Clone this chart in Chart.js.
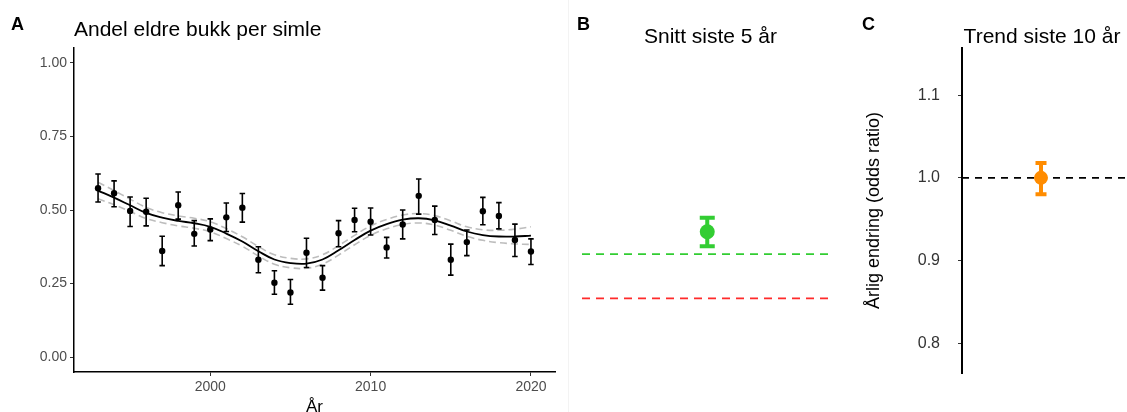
<!DOCTYPE html>
<html>
<head>
<meta charset="utf-8">
<script src="https://cdn.jsdelivr.net/npm/chart.js@4.4.1/dist/chart.umd.min.js"></script>
<style>
    html, body { margin: 0; padding: 0; background: #fff; }
    body { width: 1127px; height: 412px; overflow: hidden; position: relative; font-family: 'Liberation Sans', Arial, sans-serif; }
    .panel { position: absolute; top: 0; }
    .tag { position: absolute; font-size: 18px; line-height: 18px; font-weight: bold; color: #000; }
    .ttl { position: absolute; font-size: 21px; line-height: 21px; color: #000; white-space: nowrap; }
    .sep { position: absolute; left: 568px; top: 0; width: 1px; height: 412px; background: #f3f3f3; }
</style>
</head>
<body>
<div class="panel" style="left:0;width:560px;height:430px;"><canvas id="chartA" width="560" height="430"></canvas></div>
<div class="sep"></div>
<div class="panel" style="left:560px;width:280px;height:412px;"><canvas id="chartB" width="280" height="412"></canvas></div>
<div class="panel" style="left:840px;width:287px;height:412px;"><canvas id="chartC" width="287" height="412"></canvas></div>

<div class="tag" style="left:11px;top:15px;">A</div>
<div class="ttl" style="left:74px;top:18px;">Andel eldre bukk per simle</div>
<div class="tag" style="left:577px;top:15px;">B</div>
<div class="ttl" style="left:582px;width:257px;text-align:center;top:25px;">Snitt siste 5 år</div>
<div class="tag" style="left:862px;top:15px;">C</div>
<div class="ttl" style="left:962px;width:160px;text-align:center;top:25px;">Trend siste 10 år</div>

<script>
/**
 * Panel A: andel eldre bukk per simle, per år
 */
const years = [1993, 1994, 1995, 1996, 1997, 1998, 1999, 2000, 2001, 2002, 2003, 2004, 2005, 2006,
    2007, 2008, 2009, 2010, 2011, 2012, 2013, 2014, 2015, 2016, 2017, 2018, 2019, 2020];
const obsMean = [0.574, 0.557, 0.497, 0.494, 0.361, 0.516, 0.419, 0.434, 0.475, 0.508, 0.331, 0.253, 0.220, 0.355,
    0.270, 0.421, 0.466, 0.460, 0.373, 0.451, 0.548, 0.466, 0.331, 0.391, 0.496, 0.480, 0.398, 0.359];
const obsLow = [0.527, 0.511, 0.444, 0.446, 0.311, 0.469, 0.378, 0.396, 0.427, 0.459, 0.287, 0.214, 0.180, 0.305,
    0.228, 0.375, 0.426, 0.415, 0.337, 0.402, 0.486, 0.417, 0.279, 0.345, 0.450, 0.436, 0.342, 0.315];
const obsHigh = [0.622, 0.599, 0.544, 0.540, 0.411, 0.561, 0.464, 0.470, 0.524, 0.556, 0.375, 0.294, 0.264, 0.404,
    0.311, 0.464, 0.506, 0.507, 0.407, 0.500, 0.605, 0.513, 0.384, 0.432, 0.543, 0.525, 0.452, 0.402];
const smoothFit = [0.566, 0.542, 0.516, 0.490, 0.474, 0.463, 0.455, 0.443, 0.420, 0.393, 0.360, 0.332, 0.320, 0.318,
    0.332, 0.363, 0.398, 0.430, 0.452, 0.467, 0.472, 0.465, 0.447, 0.427, 0.415, 0.410, 0.410, 0.413];
const smoothHigh = [0.594, 0.566, 0.537, 0.509, 0.491, 0.480, 0.472, 0.460, 0.437, 0.409, 0.376, 0.348, 0.336, 0.334,
    0.348, 0.379, 0.414, 0.446, 0.468, 0.483, 0.488, 0.481, 0.463, 0.443, 0.433, 0.431, 0.435, 0.443];
const smoothLow = [0.538, 0.518, 0.495, 0.471, 0.457, 0.446, 0.438, 0.426, 0.403, 0.377, 0.344, 0.316, 0.304, 0.302,
    0.316, 0.347, 0.382, 0.414, 0.436, 0.451, 0.456, 0.449, 0.431, 0.411, 0.397, 0.389, 0.385, 0.383];
const xTicksA = [2000, 2010, 2020];
const yTicksA = [0, 0.25, 0.5, 0.75, 1];

/**
 * Panel B: snitt siste 5 år, med terskler
 */
const avgLabel = ['Snitt'];
const avgMean = [0.426];
const avgLow = [0.377];
const avgHigh = [0.474];
const greenLimit = 0.35;
const redLimit = 0.20;

/**
 * Panel C: trend siste 10 år (odds ratio)
 */
const trendLabel = ['Trend'];
const trendMean = [1.0];
const trendLow = [0.980];
const trendHigh = [1.018];
const trendRef = 1.0;
const yTicksC = [0.8, 0.9, 1.0, 1.1];

const FONT = "'Liberation Sans', Arial, sans-serif";

// Draws vertical error bars with caps for datasets that carry errLow/errHigh
const errorBarPlugin = {
    id: 'errorBars',
    beforeDatasetDraw(chart, args) {
        const ds = chart.data.datasets[args.index];
        if (!ds.errLow) return;
        const y = chart.scales.y;
        const ctx = chart.ctx;
        ctx.save();
        ctx.strokeStyle = ds.errColor;
        ctx.lineWidth = ds.errWidth;
        args.meta.data.forEach((el, j) => {
            const yLo = y.getPixelForValue(ds.errLow[j]);
            const yHi = y.getPixelForValue(ds.errHigh[j]);
            const h = ds.capWidth / 2;
            ctx.beginPath();
            ctx.moveTo(el.x, yLo);
            ctx.lineTo(el.x, yHi);
            ctx.moveTo(el.x - h, yLo);
            ctx.lineTo(el.x + h, yLo);
            ctx.moveTo(el.x - h, yHi);
            ctx.lineTo(el.x + h, yHi);
            ctx.stroke();
        });
        ctx.restore();
    },
};

// Horizontal dashed reference lines across the plot area
const refLinePlugin = {
    id: 'refLines',
    beforeDatasetsDraw(chart, args, opts) {
        const { ctx, chartArea, scales: { y } } = chart;
        (opts.lines || []).forEach(l => {
            const py = y.getPixelForValue(l.value);
            ctx.save();
            ctx.strokeStyle = l.color;
            ctx.lineWidth = l.width;
            ctx.setLineDash(l.dash);
            ctx.beginPath();
            ctx.moveTo(chartArea.left, py);
            ctx.lineTo(l.toEdge ? chart.width : chartArea.right, py);
            ctx.stroke();
            ctx.restore();
        });
    },
};

function xy(xs, ys) {
    return xs.map((x, i) => ({ x: x, y: ys[i] }));
}

function initPanelA() {
    const ctx = document.getElementById('chartA');
    new Chart(ctx, {
        type: 'line',
        data: {
            datasets: [
                {
                    type: 'scatter',
                    data: xy(years, obsMean),
                    errLow: obsLow,
                    errHigh: obsHigh,
                    errColor: '#000',
                    errWidth: 1.6,
                    capWidth: 5.5,
                    backgroundColor: '#000',
                    borderColor: '#000',
                    pointRadius: 3.2,
                    borderWidth: 0,
                },
                {
                    data: xy(years, smoothFit),
                    borderColor: '#000',
                    borderWidth: 1.8,
                    tension: 0.4,
                    pointRadius: 0,
                    fill: false,
                },
                {
                    data: xy(years, smoothHigh),
                    borderColor: '#bdbdbd',
                    borderWidth: 1.6,
                    borderDash: [7, 4],
                    tension: 0.4,
                    pointRadius: 0,
                    fill: false,
                },
                {
                    data: xy(years, smoothLow),
                    borderColor: '#bdbdbd',
                    borderWidth: 1.6,
                    borderDash: [7, 4],
                    tension: 0.4,
                    pointRadius: 0,
                    fill: false,
                },
            ],
        },
        options: {
            responsive: false,
            animation: false,
            devicePixelRatio: 1,
            layout: { padding: { left: 0, right: 5, top: 48, bottom: 0 } },
            plugins: { legend: { display: false }, tooltip: { enabled: false } },
            scales: {
                x: {
                    type: 'linear',
                    min: 1991.5,
                    max: 2021.5,
                    afterBuildTicks: s => { s.ticks = xTicksA.map(v => ({ value: v })); },
                    afterFit: s => { s.height = 58; },
                    grid: { display: true, drawOnChartArea: false, tickLength: 4, color: '#333' },
                    border: { color: '#000', width: 1.5 },
                    ticks: { font: { family: FONT, size: 14 }, color: '#4d4d4d', padding: 3, callback: v => String(v) },
                    title: { display: true, text: 'År', color: '#000', font: { family: FONT, size: 17 }, padding: { top: 0, bottom: 12 } },
                },
                y: {
                    type: 'linear',
                    min: -0.05,
                    max: 1.05,
                    afterBuildTicks: s => { s.ticks = yTicksA.map(v => ({ value: v })); },
                    afterFit: s => { s.width = 74; },
                    grid: { display: true, drawOnChartArea: false, tickLength: 4, color: '#333' },
                    border: { color: '#000', width: 1.5 },
                    ticks: { font: { family: FONT, size: 14 }, color: '#4d4d4d', padding: 3, callback: v => v.toFixed(2) },
                },
            },
        },
        plugins: [errorBarPlugin],
    });
}

function initPanelB() {
    const ctx = document.getElementById('chartB');
    new Chart(ctx, {
        type: 'line',
        data: {
            labels: avgLabel,
            datasets: [
                {
                    data: avgMean,
                    errLow: avgLow,
                    errHigh: avgHigh,
                    errColor: '#32cd32',
                    errWidth: 4,
                    capWidth: 15,
                    showLine: false,
                    backgroundColor: '#32cd32',
                    borderColor: '#32cd32',
                    pointRadius: 7.5,
                    borderWidth: 0,
                },
            ],
        },
        options: {
            responsive: false,
            animation: false,
            devicePixelRatio: 1,
            layout: { padding: { left: 22, right: 1, top: 48, bottom: 40 } },
            plugins: {
                legend: { display: false },
                tooltip: { enabled: false },
                refLines: {
                    lines: [
                        { value: greenLimit, color: '#32cd32', width: 1.8, dash: [8, 6] },
                        { value: redLimit, color: '#ff2b2b', width: 1.8, dash: [8, 6] },
                    ],
                },
            },
            scales: {
                x: { type: 'category', offset: true, display: false },
                y: { type: 'linear', min: -0.05, max: 1.05, display: false },
            },
        },
        plugins: [refLinePlugin, errorBarPlugin],
    });
}

function initPanelC() {
    const ctx = document.getElementById('chartC');
    new Chart(ctx, {
        type: 'line',
        data: {
            labels: trendLabel,
            datasets: [
                {
                    data: trendMean,
                    errLow: trendLow,
                    errHigh: trendHigh,
                    errColor: '#ff8c00',
                    errWidth: 4,
                    capWidth: 11,
                    showLine: false,
                    backgroundColor: '#ff8c00',
                    borderColor: '#ff8c00',
                    pointRadius: 7,
                    borderWidth: 0,
                },
            ],
        },
        options: {
            responsive: false,
            animation: false,
            devicePixelRatio: 1,
            layout: { padding: { left: 0, right: 5, top: 48, bottom: 39 } },
            plugins: {
                legend: { display: false },
                tooltip: { enabled: false },
                refLines: {
                    lines: [
                        { value: trendRef, color: '#000', width: 1.8, dash: [7, 6], toEdge: true },
                    ],
                },
            },
            scales: {
                x: { type: 'category', offset: true, display: false },
                y: {
                    type: 'linear',
                    min: 0.764,
                    max: 1.157,
                    afterBuildTicks: s => { s.ticks = yTicksC.map(v => ({ value: v })); },
                    afterFit: s => { s.width = 122; },
                    grid: { display: true, drawOnChartArea: false, tickLength: 4, color: '#333' },
                    border: { color: '#000', width: 2 },
                    ticks: { font: { family: FONT, size: 16 }, color: '#333', padding: 18, callback: v => v.toFixed(1) },
                    title: {
                        display: true,
                        text: 'Årlig endring (odds ratio)',
                        color: '#000',
                        font: { family: FONT, size: 18 },
                        padding: { top: 23, bottom: 0 },
                    },
                },
            },
        },
        plugins: [refLinePlugin, errorBarPlugin],
    });
}

initPanelA();
initPanelB();
initPanelC();
</script>
</body>
</html>
